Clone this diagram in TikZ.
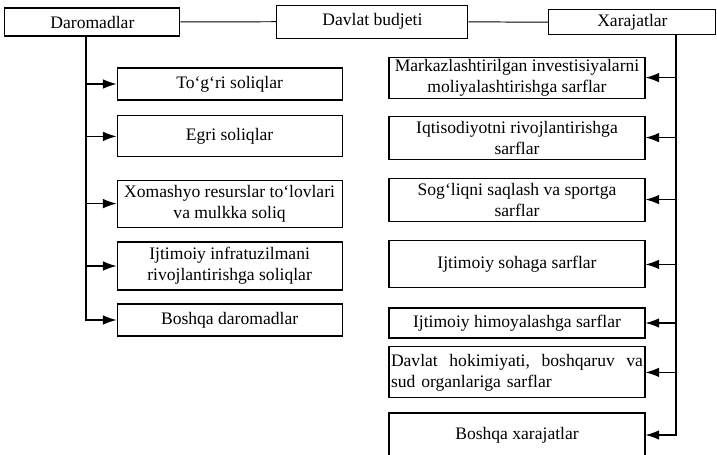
\documentclass[tikz,border=0pt]{standalone}
\usepackage{fontspec}
\setmainfont{Liberation Serif}
\usepackage{tikz}
\usetikzlibrary{arrows.meta, positioning, calc}

\begin{document}
\begin{tikzpicture}[
  box/.style={draw, rectangle, line width=0.8pt, inner sep=1pt, align=center,
              font=\fontsize{12.5}{15}\selectfont},
  lbox/.style={box, minimum width=5.625cm},
  rbox/.style={box, minimum width=6.4cm},
  link/.style={line width=0.7pt},
  arr/.style={-{Latex[length=3.4mm,width=2.4mm]}, line width=0.8pt}
]
  \useasboundingbox (0,0) rectangle (17.925,-11.375);

  % top row
  \node[box, minimum width=4.375cm, minimum height=0.7cm] (daromad) at (2.31,-0.55) {Daromadlar};
  \node[box, minimum width=4.775cm, minimum height=0.825cm] (budjet) at (9.31,-0.54) {Davlat budjeti};
  \node[box, minimum width=4.175cm, minimum height=0.625cm] (xarajat) at (15.81,-0.56) {Xarajatlar};

  \draw[link] (daromad) -- (budjet);
  \draw[link] (budjet) -- (xarajat);

  % income side
  \node[lbox, minimum height=0.8cm] (togri) at (5.74,-2.1) {To‘g‘ri soliqlar};
  \node[lbox, minimum height=1.025cm] (egri) at (5.74,-3.41) {Egri soliqlar};
  \node[lbox, minimum height=1.175cm] (xomashyo) at (5.74,-5.09) {Xomashyo resurslar to‘lovlari\\va mulkka soliq};
  \node[lbox, minimum height=1.2cm] (infra) at (5.74,-6.65) {Ijtimoiy infratuzilmani\\rivojlantirishga soliqlar};
  \node[lbox, minimum height=0.8cm] (boshqaD) at (5.74,-8.0) {Boshqa daromadlar};

  % expense side
  \node[rbox, minimum height=1.025cm] (markaz) at (12.925,-1.94) {Markazlashtirilgan investisiyalarni\\moliyalashtirishga sarflar};
  \node[rbox, minimum height=1.075cm] (iqtisod) at (12.925,-3.44) {Iqtisodiyotni rivojlantirishga\\sarflar};
  \node[rbox, minimum height=1.075cm] (sogliq) at (12.925,-4.99) {Sog‘liqni saqlash va sportga\\sarflar};
  \node[rbox, minimum height=1.175cm] (sohaga) at (12.925,-6.61) {Ijtimoiy sohaga sarflar};
  \node[rbox, minimum height=0.75cm] (himoya) at (12.925,-8.075) {Ijtimoiy himoyalashga sarflar};
  \node[rbox, minimum height=1.275cm, text width=6.3cm, align=left] (hokim) at (12.925,-9.31)
    {Davlat\hfill hokimiyati,\hfill boshqaruv\hfill va\\sud organlariga sarflar};
  \node[rbox, minimum height=1.1cm] (boshqaX) at (12.925,-10.875) {Boshqa xarajatlar};

  \coordinate (ltrunk) at (2.15,0);
  \coordinate (rtrunk) at (16.9,0);

  \draw[arr] (daromad.south -| ltrunk) |- (boshqaD);
  \foreach \n in {togri, egri, xomashyo, infra}
    \draw[arr] (\n -| ltrunk) -- (\n);

  \draw[arr] (xarajat.south -| rtrunk) |- (boshqaX);
  \foreach \n in {markaz, iqtisod, sogliq, sohaga, himoya, hokim}
    \draw[arr] (\n -| rtrunk) -- (\n);
\end{tikzpicture}
\end{document}
